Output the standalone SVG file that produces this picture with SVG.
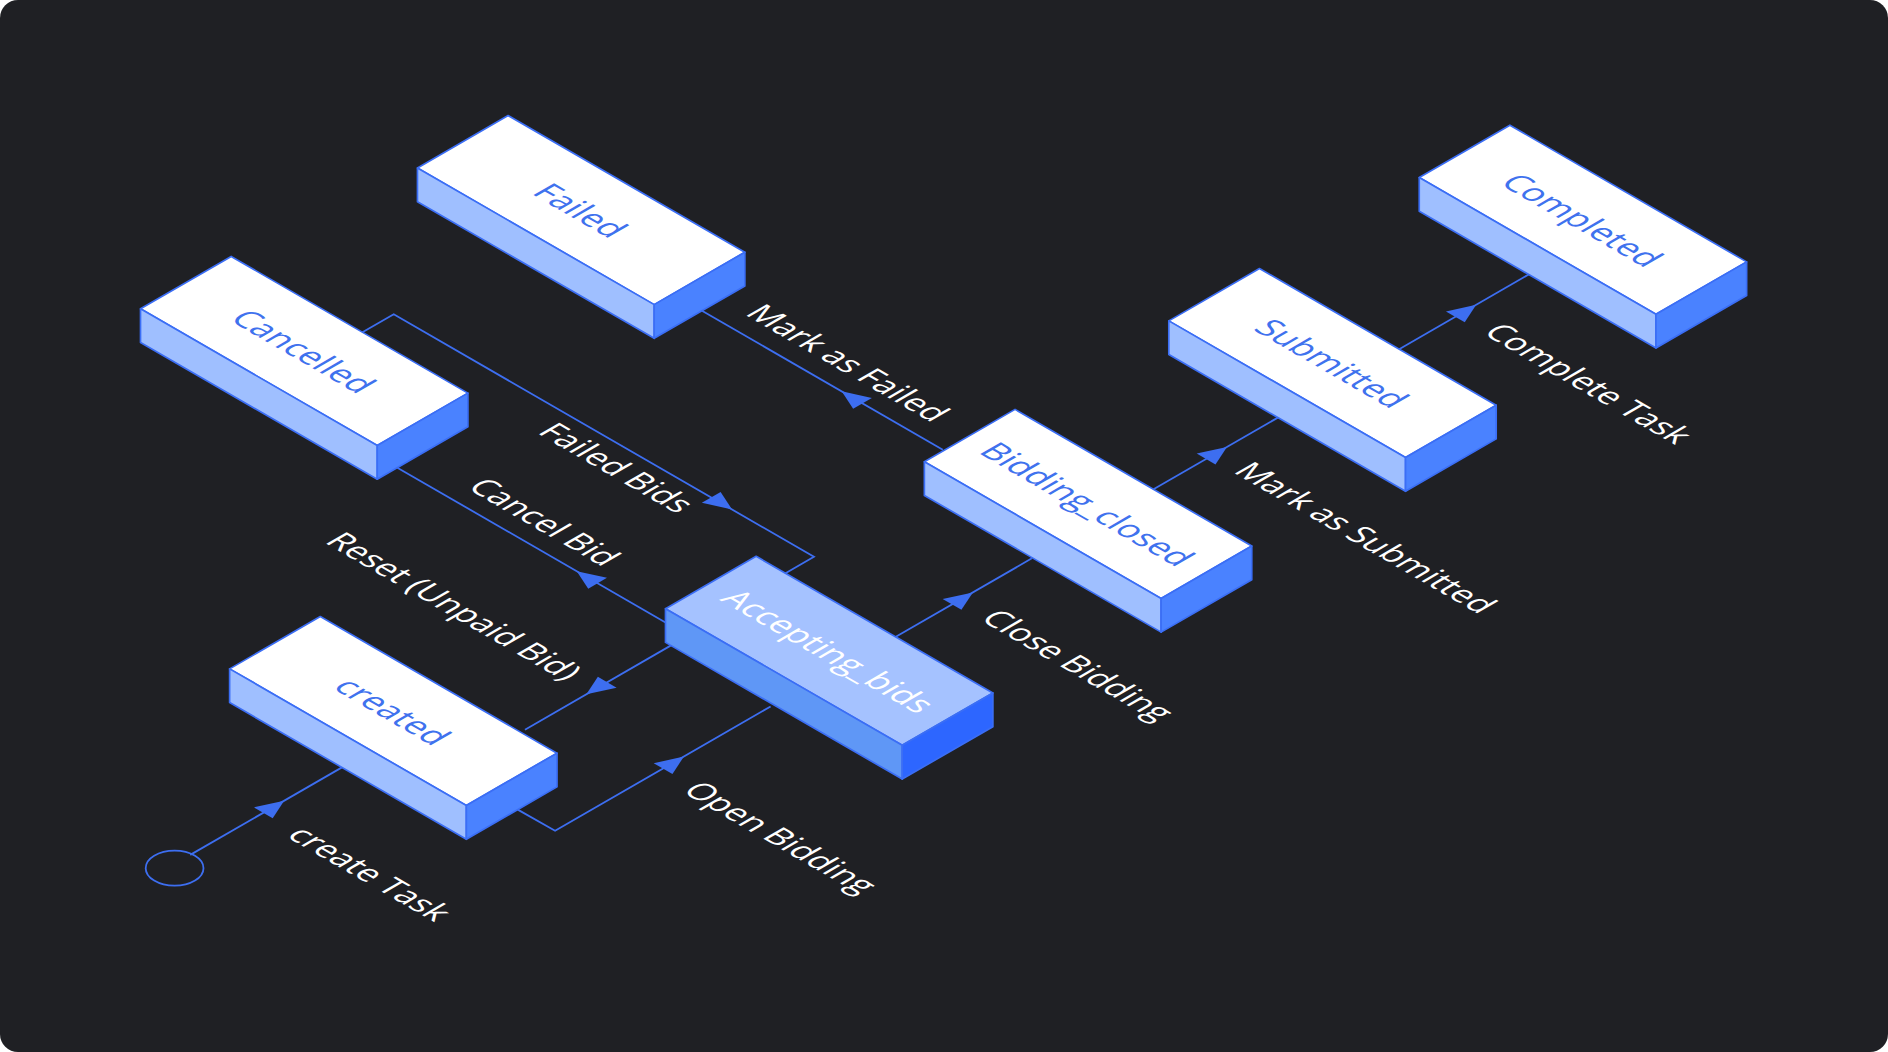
<svg xmlns="http://www.w3.org/2000/svg" xmlns:xlink="http://www.w3.org/1999/xlink" width="1888" height="1052" viewBox="0 0 1888 1052">
<style>
.top{fill:#ffffff;stroke:#3b6ef5;stroke-width:1.4;stroke-linejoin:round}
.long{fill:#9fbfff;stroke:#3b6ef5;stroke-width:1.4;stroke-linejoin:round}
.short{fill:#4a82ff;stroke:#3b6ef5;stroke-width:1.4;stroke-linejoin:round}
.topA{fill:#a5c2ff;stroke:#3b6ef5;stroke-width:1.4;stroke-linejoin:round}
.longA{fill:#5f97f6;stroke:#3b6ef5;stroke-width:1.4;stroke-linejoin:round}
.shortA{fill:#2d66ff;stroke:#3b6ef5;stroke-width:1.4;stroke-linejoin:round}
.nt{font-family:"Open Sans","Noto Sans",sans-serif;font-size:27.5px;fill:#3f72ee;text-anchor:middle;dominant-baseline:central}
.ntA{fill:#ffffff}
.lb{font-family:"Open Sans","Noto Sans",sans-serif;font-size:27px;fill:#ffffff;text-anchor:middle;dominant-baseline:central}
.ln{fill:none;stroke:#3d6ef0;stroke-width:1.5;stroke-linejoin:miter}
.ah{fill:#3d6ef0}
</style>
<defs>
<g id="boxW">
<polygon class="top" points="0,0 196.6,113.5 121.3,157 -75.3,43.5"/>
<polygon class="long" points="-75.3,43.5 121.3,157 121.3,185 -75.3,71.5"/>
<polygon class="short" points="121.3,157 196.6,113.5 196.6,141.5 121.3,185"/>
</g>
<g id="boxA">
<polygon class="topA" points="0,0 196.6,113.5 121.3,157 -75.3,43.5"/>
<polygon class="longA" points="-75.3,43.5 121.3,157 121.3,185 -75.3,71.5"/>
<polygon class="shortA" points="121.3,157 196.6,113.5 196.6,141.5 121.3,185"/>
</g>
<polygon id="arrow" class="ah" points="0,0 -20,-9 -20,9"/>
</defs>
<rect x="0" y="0" width="1888" height="1052" fill="#ffffff"/>
<rect x="0" y="0" width="1888" height="1052" rx="18" ry="18" fill="#1f2024"/>
<g transform="scale(1.20408)">
<g id="connectors">
<ellipse class="ln" cx="145" cy="721" rx="24" ry="14.5"/>
<path class="ln" d="M158,710 L284,637.3"/>
<use href="#arrow" transform="matrix(0.866,0.5,-0.866,0.5,236,665) rotate(-90)"/>
<path class="ln" d="M430,672.4 L461,690 L640,586.7"/>
<use href="#arrow" transform="matrix(0.866,0.5,-0.866,0.5,568,628.3) rotate(-90)"/>
<path class="ln" d="M562,533.3 L436,606"/>
<use href="#arrow" transform="matrix(0.866,0.5,-0.866,0.5,487,576.6) rotate(90)"/>
<path class="ln" d="M552.7,517 L330,388.4"/>
<use href="#arrow" transform="matrix(0.866,0.5,-0.866,0.5,479,474.4) rotate(180)"/>
<path class="ln" d="M301,276 L327,261 L676,462.4 L652,476.3"/>
<use href="#arrow" transform="matrix(0.866,0.5,-0.866,0.5,608,423.1)"/>
<path class="ln" d="M783,373.5 L583,258.1"/>
<use href="#arrow" transform="matrix(0.866,0.5,-0.866,0.5,699,325) rotate(180)"/>
<path class="ln" d="M744,528.9 L857,463.7"/>
<use href="#arrow" transform="matrix(0.866,0.5,-0.866,0.5,808,492) rotate(-90)"/>
<path class="ln" d="M958,406.4 L1062,346.4"/>
<use href="#arrow" transform="matrix(0.866,0.5,-0.866,0.5,1019,371.2) rotate(-90)"/>
<path class="ln" d="M1162,290 L1270,227.7"/>
<use href="#arrow" transform="matrix(0.866,0.5,-0.866,0.5,1226,253.1) rotate(-90)"/>
<text class="lb" transform="matrix(0.866,0.5,-0.866,0.5,308,725)">create Task</text>
<text class="lb" transform="matrix(0.866,0.5,-0.866,0.5,649,695)">Open Bidding</text>
<text class="lb" transform="matrix(0.866,0.5,-0.866,0.5,378,503)">Reset (Unpaid Bid)</text>
<text class="lb" transform="matrix(0.866,0.5,-0.866,0.5,453,433)">Cancel Bid</text>
<text class="lb" transform="matrix(0.866,0.5,-0.866,0.5,513,388)">Failed Bids</text>
<text class="lb" transform="matrix(0.866,0.5,-0.866,0.5,705,301)">Mark as Failed</text>
<text class="lb" transform="matrix(0.866,0.5,-0.866,0.5,896,552)">Close Bidding</text>
<text class="lb" transform="matrix(0.866,0.5,-0.866,0.5,1135,446)">Mark as Submitted</text>
<text class="lb" transform="matrix(0.866,0.5,-0.866,0.5,1320,318)">Complete Task</text>
</g>
<g id="node-failed" transform="translate(422,96)">
<use href="#boxW"/>
<text class="nt" transform="matrix(0.866,0.5,-0.866,0.5,60.6,78.5)">Failed</text>
</g>
<g id="node-cancelled" transform="translate(192,213)">
<use href="#boxW"/>
<text class="nt" transform="matrix(0.866,0.5,-0.866,0.5,60.6,78.5)">Cancelled</text>
</g>
<g id="node-created" transform="translate(266,512)">
<use href="#boxW"/>
<text class="nt" transform="matrix(0.866,0.5,-0.866,0.5,60.6,78.5)">created</text>
</g>
<g id="node-accepting" transform="translate(628,462)">
<use href="#boxA"/>
<text class="nt ntA" transform="matrix(0.866,0.5,-0.866,0.5,60.6,78.5)">Accepting_bids</text>
</g>
<g id="node-bidding-closed" transform="translate(843,340)">
<use href="#boxW"/>
<text class="nt" transform="matrix(0.866,0.5,-0.866,0.5,60.6,78.5)">Bidding_closed</text>
</g>
<g id="node-submitted" transform="translate(1046,223)">
<use href="#boxW"/>
<text class="nt" transform="matrix(0.866,0.5,-0.866,0.5,60.6,78.5)">Submitted</text>
</g>
<g id="node-completed" transform="translate(1254,104)">
<use href="#boxW"/>
<text class="nt" transform="matrix(0.866,0.5,-0.866,0.5,60.6,78.5)">Completed</text>
</g>
</g>
</svg>
